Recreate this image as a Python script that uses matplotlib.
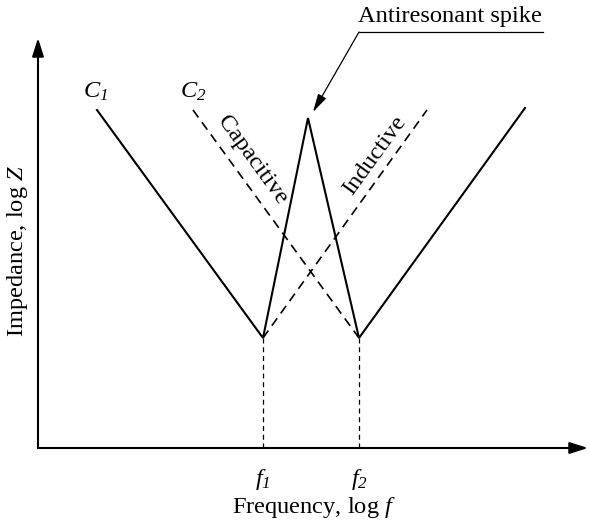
import matplotlib
matplotlib.use("Agg")
import matplotlib.pyplot as plt

plt.rcParams['font.family'] = ['Liberation Serif', 'DejaVu Serif']
plt.rcParams['mathtext.fontset'] = 'custom'
plt.rcParams['mathtext.rm'] = 'Liberation Serif:italic'
plt.rcParams['mathtext.it'] = 'Liberation Serif:italic'

# Data (abstract log f / log Z units)
f1 = 22.5
f2 = 32.1
z_min = 11.0
# Solid curve: C1 capacitive -> f1 -> antiresonant spike -> f2 -> inductive
solid_x = [5.9, f1, 27.0, f2, 48.7]
solid_y = [33.8, z_min, 33.0, z_min, 34.0]
# Dashed C2 capacitive line
cap2_x = [15.5, f2]
cap2_y = [33.8, z_min]
# Dashed inductive line
ind_x = [f1, 38.9]
ind_y = [z_min, 33.8]
spike_tip = (27.5, 33.6)
x_max, y_max = 55.0, 41.0

FS = 17.6
fig = plt.figure(figsize=(5.9, 5.25), dpi=100)
ax = fig.add_axes([38/590, 77/525, 552/590, 448/525])
ax.set_xlim(0, 55.2)
ax.set_ylim(0, 44.8)
ax.axis('off')

dash = (0, (5.5, 3.6))
ax.plot(solid_x, solid_y, color='black', lw=1.5, solid_joinstyle='miter', clip_on=False)
ax.plot(cap2_x, cap2_y, color='black', lw=1.2, linestyle=dash, clip_on=False)
ax.plot(ind_x, ind_y, color='black', lw=1.2, linestyle=dash, clip_on=False)
for fx in (f1, f2):
    ax.plot([fx, fx], [0, z_min], color='black', lw=0.9, linestyle=(0, (4, 3)), clip_on=False)

# Axes arrows
ax.annotate('', xy=(x_max, 0), xytext=(0, 0), annotation_clip=False,
            arrowprops=dict(arrowstyle='-|>,head_length=1.1,head_width=0.35', lw=1.5,
                            color='black', shrinkA=0, shrinkB=0))
ax.annotate('', xy=(0, y_max), xytext=(0, 0), annotation_clip=False,
            arrowprops=dict(arrowstyle='-|>,head_length=1.1,head_width=0.35', lw=1.5,
                            color='black', shrinkA=0, shrinkB=0))

# Labels
ax.text(f1, -3.2, r'$f_{1}$', ha='center', va='center', fontsize=FS, clip_on=False)
ax.text(f2, -3.2, r'$f_{2}$', ha='center', va='center', fontsize=FS, clip_on=False)
ax.text(27.6, -6.0, r'Frequency, log $f$', ha='center', va='center', fontsize=FS, clip_on=False)
ax.text(-2.0, 19.7, r'Impedance, log $Z$', ha='center', va='center', rotation=90,
        fontsize=FS, clip_on=False)
ax.text(5.7, 35.6, r'$C_{1}$', ha='center', va='center', fontsize=FS)
ax.text(15.5, 35.6, r'$C_{2}$', ha='center', va='center', fontsize=FS)
ax.text(21.4, 28.8, 'Capacitive', ha='center', va='center', rotation=-54,
        rotation_mode='anchor', fontsize=FS)
ax.text(33.7, 29.2, 'Inductive', ha='center', va='center', rotation=54,
        rotation_mode='anchor', fontsize=FS)

# Antiresonant spike annotation
ax.text(32.0, 42.6, 'Antiresonant spike', ha='left', va='baseline', fontsize=FS, clip_on=False)
ax.plot([32.1, 50.5], [41.6, 41.6], color='black', lw=0.9, clip_on=False)
ax.annotate('', xy=spike_tip, xytext=(32.1, 41.6), annotation_clip=False,
            arrowprops=dict(arrowstyle='-|>,head_length=1.1,head_width=0.28', lw=0.9,
                            color='black', shrinkA=0, shrinkB=0))

fig.savefig('out.png', dpi=100)
